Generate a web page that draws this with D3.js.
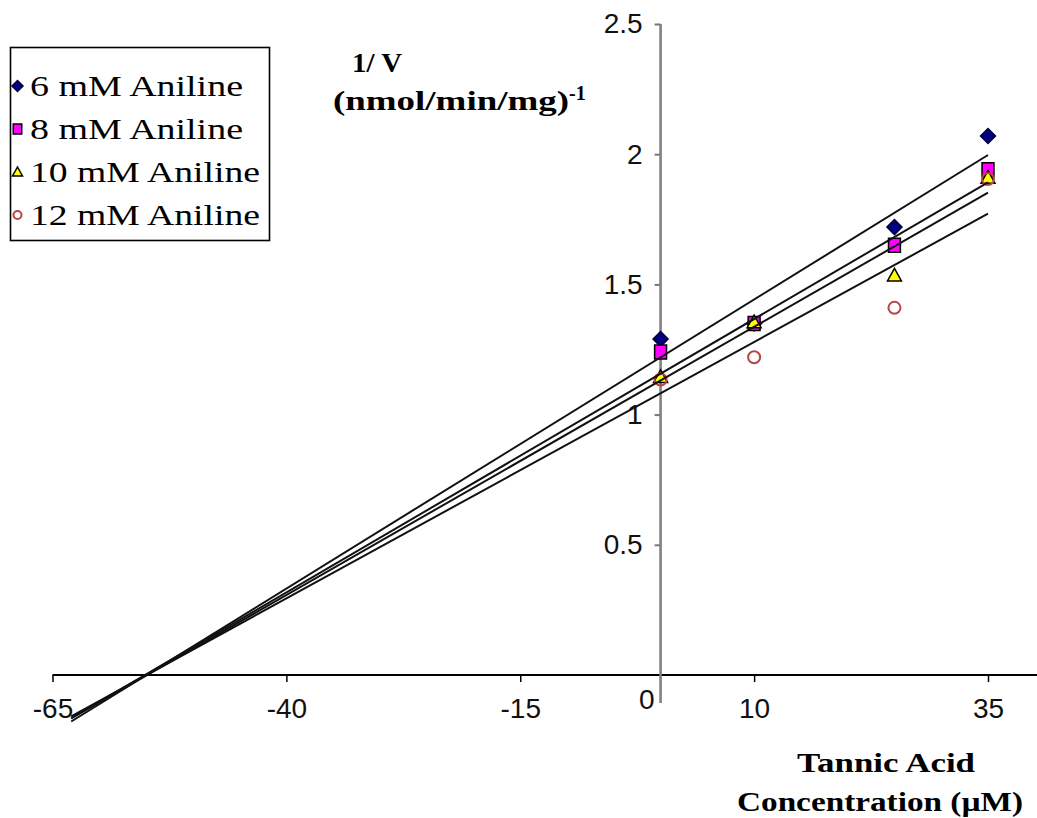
<!DOCTYPE html>
<html>
<head>
<meta charset="utf-8">
<script src="https://cdn.jsdelivr.net/npm/d3@7"></script>
<style>
  html, body { margin: 0; padding: 0; background: #fff; }
  svg { display: block; }
</style>
</head>
<body>
<svg id="chart" width="1037" height="818"></svg>
<script>
// Tannic acid concentrations (µM)
const concentrations = [0, 10, 25, 35];

// 1/V values for each aniline concentration
const series6mM  = [1.29, 1.35, 1.72, 2.07];
const series8mM  = [1.24, 1.35, 1.65, 1.94];
const series10mM = [1.145, 1.355, 1.535, 1.91];
const series12mM = [1.135, 1.22, 1.41, 1.905];

const seriesNames = ["6 mM Aniline", "8 mM Aniline", "10 mM Aniline", "12 mM Aniline"];

// Linear trendlines (1/V = intercept + slope * [I]), one per series
const trendIntercepts = [1.22, 1.157, 1.131, 1.082];
const trendSlopes     = [0.0222, 0.0210, 0.0206, 0.0197];
// Trendlines are projected back from the last concentration to this one
const trendStart = -63;

// Axis ticks
const xTicks = [-65, -40, -15, 10, 35];
const yTicks = [0.5, 1, 1.5, 2, 2.5];

const seriesValues = [series6mM, series8mM, series10mM, series12mM];
const markerStyles = [
  { shape: "diamond",  fill: "#000080", stroke: "#000040" },
  { shape: "square",   fill: "#ff00ff", stroke: "#000000" },
  { shape: "triangle", fill: "#ffff00", stroke: "#000000" },
  { shape: "circle",   fill: "none",    stroke: "#b84545" }
];

const svg = d3.select("#chart");

const x = d3.scaleLinear().domain([-65, 35]).range([52.5, 988]);
const y = d3.scaleLinear().domain([0, 2.5]).range([675, 24]);

// Marker glyphs, centred on the origin
function markerPath(shape, s) {
  const h = s / 2;
  if (shape === "diamond") return `M0,${-h}L${h},0L0,${h}L${-h},0Z`;
  if (shape === "square") return `M${-h * 0.85},${-h}H${h * 0.85}V${h}H${-h * 0.85}Z`;
  if (shape === "triangle") return `M0,${-h}L${h},${h * 0.8}L${-h},${h * 0.8}Z`;
  return null;
}
function drawMarker(g, style, size) {
  if (style.shape === "circle") {
    g.append("circle").attr("r", size / 2 - 1)
      .attr("fill", "none").attr("stroke", style.stroke).attr("stroke-width", 2);
  } else {
    g.append("path").attr("d", markerPath(style.shape, size))
      .attr("fill", style.fill).attr("stroke", style.stroke).attr("stroke-width", 1.5);
  }
}

// ---- Axes ----
const tickFont = "'Liberation Sans', Arial, sans-serif";
const plainNumber = d => String(d);   // keeps an ASCII hyphen for negatives

const xAxis = d3.axisBottom(x).tickValues(xTicks).tickSize(7).tickSizeOuter(0)
  .tickPadding(16).tickFormat(plainNumber);
const gx = svg.append("g").attr("transform", `translate(0,${y(0)})`).call(xAxis);
gx.select(".domain").remove();
gx.selectAll(".tick line").attr("stroke", "#000").attr("stroke-width", 1.5);
gx.selectAll(".tick text").attr("font-family", tickFont).attr("font-size", 28)
  .attr("fill", "#111").attr("font-weight", 300);
gx.append("line").attr("x1", x(-65)).attr("x2", x(40.3)).attr("y1", 0).attr("y2", 0)
  .attr("stroke", "#000").attr("stroke-width", 1.8);

const yAxis = d3.axisLeft(y).tickValues(yTicks).tickSize(6).tickSizeOuter(0).tickPadding(12)
  .tickFormat(plainNumber);
const gy = svg.append("g").attr("transform", `translate(${x(0)},0)`).call(yAxis);
gy.select(".domain").remove();
gy.selectAll(".tick line").attr("stroke", "#777").attr("stroke-width", 2);
gy.selectAll(".tick text").attr("font-family", tickFont).attr("font-size", 28)
  .attr("fill", "#111").attr("font-weight", 300);
gy.append("line").attr("x1", 0).attr("x2", 0).attr("y1", y(2.5)).attr("y2", y(-0.108))
  .attr("stroke", "#808080").attr("stroke-width", 2.6);
// zero label sits just under the horizontal axis
gy.append("text").attr("x", -6).attr("y", y(0) + 34).attr("text-anchor", "end")
  .attr("font-family", tickFont).attr("font-size", 28).attr("fill", "#111")
  .text("0");

// ---- Data markers ----
seriesValues.forEach((vals, i) => {
  const style = markerStyles[i];
  const size = style.shape === "diamond" ? 15 : 14;
  vals.forEach((v, j) => {
    const g = svg.append("g").attr("transform", `translate(${x(concentrations[j])},${y(v)})`);
    drawMarker(g, style, size);
  });
});

// ---- Trendlines ----
const xEnd = d3.max(concentrations);
trendIntercepts.forEach((b, i) => {
  const m = trendSlopes[i];
  svg.append("line")
    .attr("x1", x(trendStart)).attr("y1", y(b + m * trendStart))
    .attr("x2", x(xEnd)).attr("y2", y(b + m * xEnd))
    .attr("stroke", "#111").attr("stroke-width", 2);
});

// ---- Axis titles ----
const serif = "'Liberation Serif', 'Times New Roman', serif";
function fitText(sel, w) {
  sel.attr("textLength", w).attr("lengthAdjust", "spacingAndGlyphs");
}

const t1 = svg.append("text").attr("x", 377).attr("y", 72).attr("text-anchor", "middle")
  .attr("font-family", serif).attr("font-weight", "bold").attr("font-size", 28).text("1/ V");
fitText(t1, 50);

const t2 = svg.append("text").attr("x", 333).attr("y", 110)
  .attr("font-family", serif).attr("font-weight", "bold").attr("font-size", 28);
const t2a = t2.append("tspan").text("(nmol/min/mg)");
fitText(t2a, 236);
t2.append("tspan").attr("dy", -10).attr("font-size", 20).text("-1");

const t3 = svg.append("text").attr("x", 886).attr("y", 772).attr("text-anchor", "middle")
  .attr("font-family", serif).attr("font-weight", "bold").attr("font-size", 28).text("Tannic Acid");
fitText(t3, 178);
const t4 = svg.append("text").attr("x", 880).attr("y", 811).attr("text-anchor", "middle")
  .attr("font-family", serif).attr("font-weight", "bold").attr("font-size", 28).text("Concentration (µM)");
fitText(t4, 286);

// ---- Legend ----
const legend = svg.append("g");
legend.append("rect").attr("x", 10.5).attr("y", 47.5).attr("width", 259).attr("height", 193)
  .attr("fill", "#fff").attr("stroke", "#000").attr("stroke-width", 1.6);
const legendRows = [86, 129, 172, 215];
const legendWidths = [213, 213, 230, 230];
seriesNames.forEach((name, i) => {
  const g = legend.append("g").attr("transform", `translate(17.5,${legendRows[i]})`);
  drawMarker(g, markerStyles[i], i === 0 ? 11 : 10);
  const t = legend.append("text").attr("x", 30).attr("y", legendRows[i] + 10)
    .attr("font-family", serif).attr("font-size", 30).attr("fill", "#000").text(name);
  fitText(t, legendWidths[i]);
});
</script>
</body>
</html>
